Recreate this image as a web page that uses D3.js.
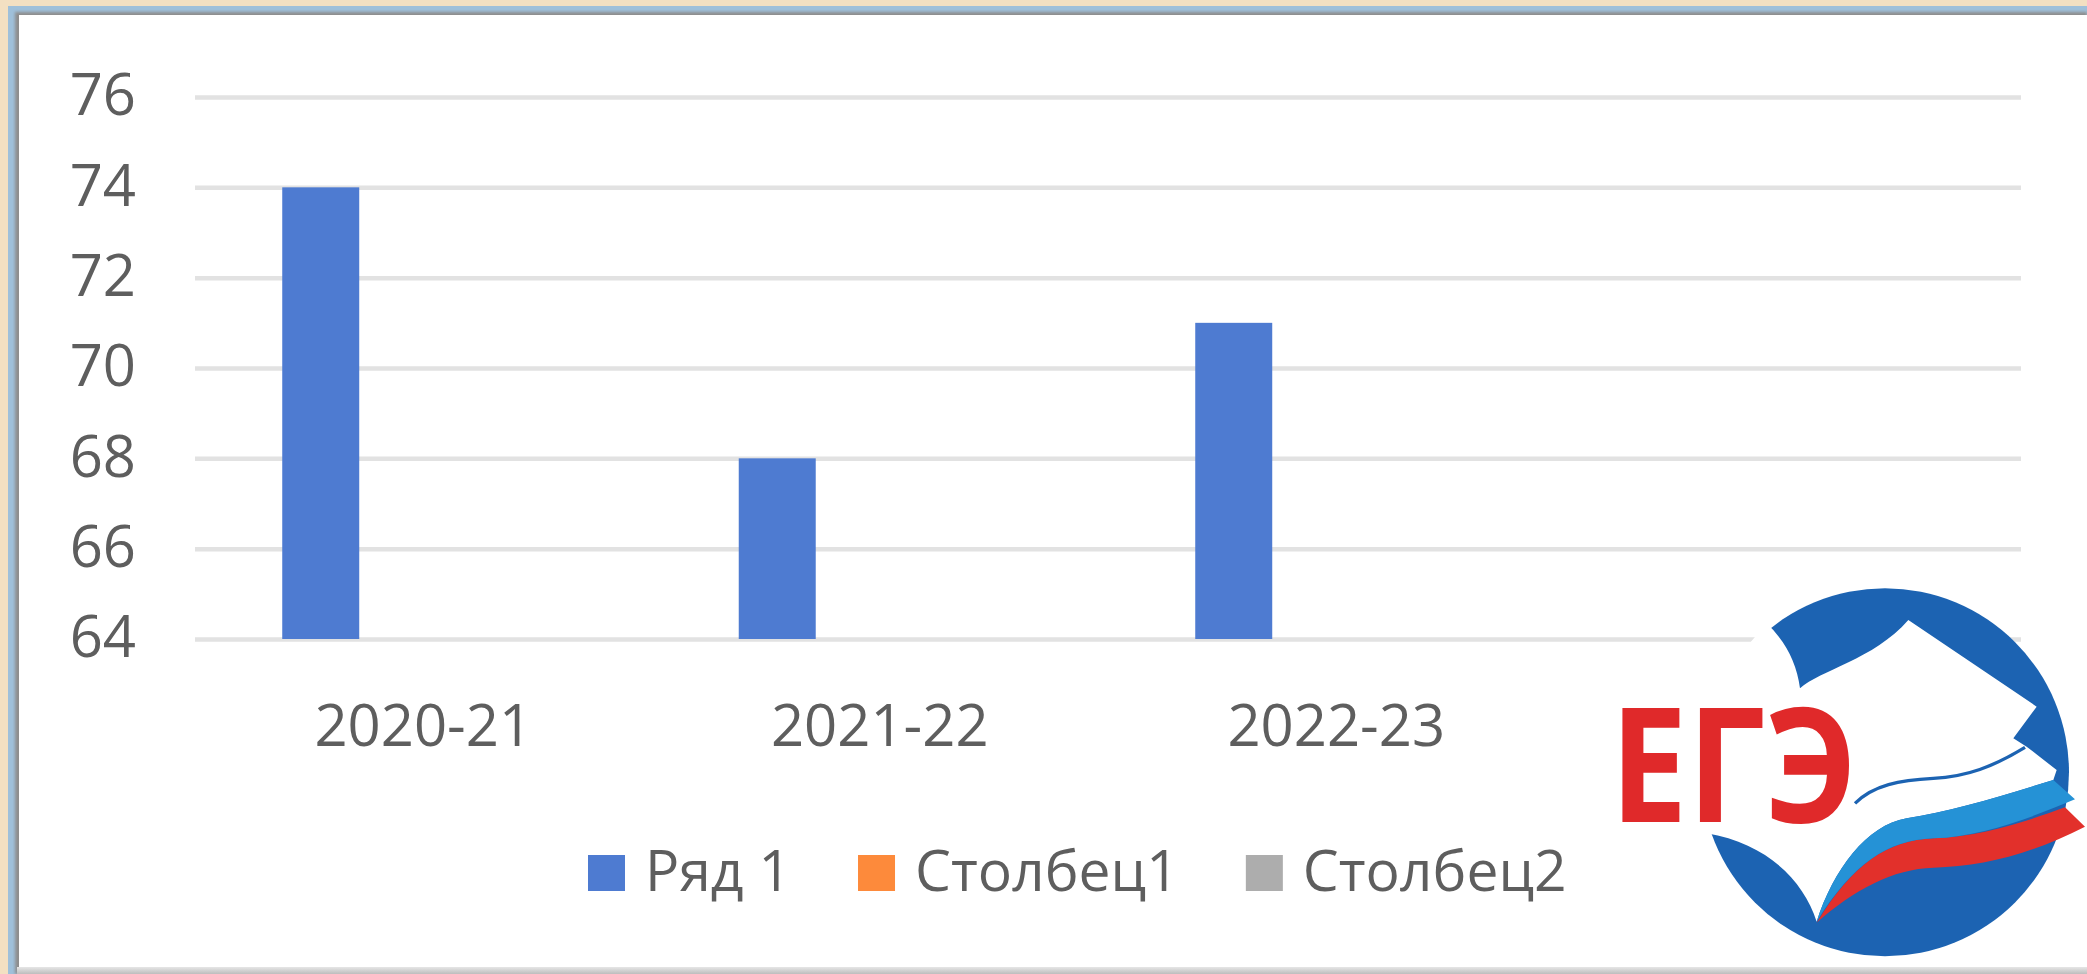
<!DOCTYPE html>
<html><head><meta charset="utf-8">
<script src="https://cdn.jsdelivr.net/npm/d3@7"></script>
<style>html,body{margin:0;padding:0;background:#fff;overflow:hidden}</style>
</head><body>
<script>
// ---- data ----
const categories = ["2020-21", "2021-22", "2022-23", ""];
const seriesNames = ["Ряд 1", "Столбец1", "Столбец2"];
const seriesRyad1 = [74, 68, 71, null];
const seriesStolbec1 = [null, null, null, null];
const seriesStolbec2 = [null, null, null, null];
const seriesColors = ["#4e7bd1", "#fd8a3b", "#adadad"];
const yTicks = [64, 66, 68, 70, 72, 74, 76];
const yDomain = [64, 76];
const logoText = "ЕГЭ";

const W = 2087, H = 974;
const svg = d3.select("body").append("svg").attr("width", W).attr("height", H);
const defs = svg.append("defs");
defs.append("filter").attr("id", "blur").append("feGaussianBlur").attr("stdDeviation", 1.6);
const bg = defs.append("linearGradient").attr("id", "bottomGrad").attr("x1", 0).attr("y1", 0).attr("x2", 0).attr("y2", 1);
bg.append("stop").attr("offset", 0).attr("stop-color", "#e6e6e6");
bg.append("stop").attr("offset", 1).attr("stop-color", "#bdbdbd");

// ---- frame ----
svg.append("rect").attr("x", 0).attr("y", 0).attr("width", W).attr("height", H).attr("fill", "#f3e0c2");
svg.append("rect").attr("x", 8).attr("y", 6).attr("width", W - 8).attr("height", H - 6).attr("fill", "#9fc0da");
svg.append("rect").attr("x", 15).attr("y", 12).attr("width", W - 15).attr("height", H - 12).attr("fill", "#8e8e8e").attr("filter", "url(#blur)");
svg.append("rect").attr("x", 19).attr("y", 15).attr("width", W - 19).attr("height", 952).attr("fill", "#ffffff");
svg.append("rect").attr("x", 17).attr("y", 967).attr("width", W - 17).attr("height", 7).attr("fill", "url(#bottomGrad)");

// ---- scales ----
const plot = {left: 195, right: 2021, top: 97, bottom: 639};
const x0 = d3.scaleBand().domain(categories).range([plot.left, plot.right]).paddingInner(0).paddingOuter(0);
const x1 = d3.scaleBand().domain(seriesNames).range([0, x0.bandwidth()]).paddingInner(0.249).paddingOuter(0.851);
const y = d3.scaleLinear().domain(yDomain).range([plot.bottom, plot.top]);
const color = d3.scaleOrdinal().domain(seriesNames).range(seriesColors);

const fontFamily = "'Open Sans', 'Noto Sans', sans-serif";
const textColor = "#5e5e5e";

// ---- y axis with gridlines ----
const yAxis = svg.append("g").attr("transform", `translate(${plot.left},0)`)
  .call(d3.axisLeft(y).tickValues(yTicks).tickSize(-(plot.right - plot.left)).tickPadding(59).tickFormat(d3.format("d")));
yAxis.select(".domain").remove();
yAxis.selectAll(".tick line").attr("stroke", "#e2e2e2").attr("stroke-width", 4.5);
yAxis.selectAll(".tick text").attr("font-family", fontFamily).attr("font-size", 58).attr("fill", textColor).attr("dy", "0.31em");

// ---- x axis ----
const xAxis = svg.append("g").attr("transform", `translate(0,${plot.bottom})`)
  .call(d3.axisBottom(x0).tickSize(0).tickPadding(66));
xAxis.select(".domain").remove();
xAxis.selectAll(".tick text").attr("font-family", fontFamily).attr("font-size", 58).attr("fill", textColor);

// ---- bars ----
const seriesData = [seriesRyad1, seriesStolbec1, seriesStolbec2];
const rows = [];
categories.forEach((c, i) => seriesNames.forEach((s, j) => {
  if (seriesData[j][i] != null) rows.push({cat: c, series: s, value: seriesData[j][i]});
}));
svg.append("g").selectAll("rect").data(rows).join("rect")
  .attr("x", d => x0(d.cat) + x1(d.series))
  .attr("width", x1.bandwidth())
  .attr("y", d => y(d.value))
  .attr("height", d => y(yDomain[0]) - y(d.value))
  .attr("fill", d => color(d.series));

// ---- legend ----
const legend = svg.append("g");
let lx = 588;
const sq = 37, textOffset = 57, itemGap = 67, legendBaseline = 891;
seriesNames.forEach(s => {
  legend.append("rect").attr("x", lx).attr("y", legendBaseline - 36).attr("width", sq).attr("height", 36).attr("fill", color(s));
  const t = legend.append("text").attr("x", lx + textOffset).attr("y", legendBaseline)
    .attr("font-family", fontFamily).attr("font-size", 57).attr("fill", textColor).text(s);
  lx = lx + textOffset + t.node().getComputedTextLength() + itemGap;
});

// ---- logo (decoration) ----
const logo = svg.append("g").attr("transform", "translate(1600,570) scale(0.33333)");
logo.append("circle").attr("cx", 855).attr("cy", 607).attr("r", 552).attr("fill", "#1c63b2");
logo.append("path").attr("fill", "#ffffff")
  .attr("d", "M500,160 Q585,240 600,355 C660,300 820,270 925,150 L1310,410 L1240,505 L1280,530 L1370,600 L1360,630 C1200,680 1050,725 920,745 C800,765 700,900 650,1055 C610,930 500,820 320,790 L292,790 L288,600 L305,450 L360,330 L440,230 Z");
logo.append("path").attr("fill", "none").attr("stroke", "#1c63b2").attr("stroke-width", 10)
  .attr("d", "M765,700 C820,645 900,630 1000,625 C1100,620 1180,590 1275,532");
logo.append("path").attr("fill", "#e2302b")
  .attr("d", "M1395,712 L1455,770 C1300,850 1150,890 1000,893 C880,896 760,960 650,1058 C760,880 860,812 1000,805 C1150,800 1290,750 1395,712 Z");
logo.append("path").attr("fill", "#2592d6")
  .attr("d", "M1360,630 L1425,688 C1300,740 1150,800 1000,805 C860,812 760,880 650,1055 C700,900 800,765 920,745 C1050,725 1200,680 1360,630 Z");
svg.append("text").attr("x", 1610).attr("y", 822)
  .attr("font-family", "'Open Sans', 'Roboto', sans-serif").attr("font-weight", 700).attr("font-size", 160)
  .attr("fill", "#e0292a").attr("textLength", 247).attr("lengthAdjust", "spacingAndGlyphs").text(logoText);
</script>
</body></html>
